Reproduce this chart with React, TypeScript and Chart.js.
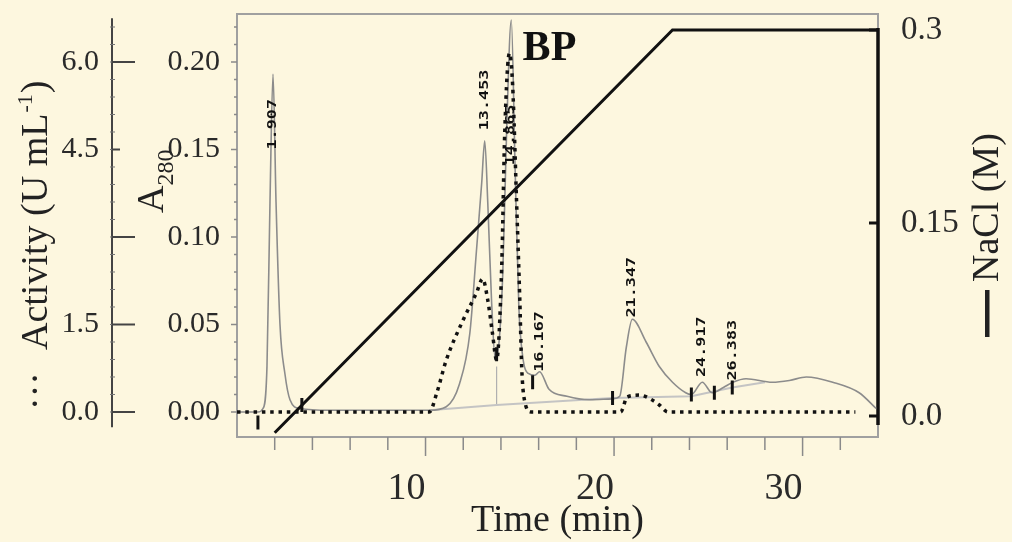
import React, { useEffect, useRef } from 'react';
import { Chart, registerables } from 'chart.js';

Chart.register(...registerables);

const SERIF = "'Liberation Serif', 'Times New Roman', serif";
const BG = '#fdf7df';

// ---- data ----
const a280Time = [0, 1.11, 1.38, 1.59, 1.75, 1.91, 2.07, 2.28, 2.54, 2.81, 3.34, 4.9, 10.2, 11.1, 11.8, 12.35, 12.7, 12.98, 13.14, 13.3, 13.5, 13.7, 13.9, 14.1, 14.3, 14.55, 14.75, 14.95, 15.15, 15.45, 15.8, 16.05, 16.55, 17.5, 18.7, 19.9, 20.3, 20.65, 20.97, 21.7, 22.4, 23.1, 23.8, 24.1, 24.68, 25.2, 25.8, 26.3, 27.0, 28.4, 29.3, 30.2, 31.6, 33.0, 33.9];
const a280Value = [0, 0, 0.002, 0.026, 0.12, 0.193, 0.12, 0.05, 0.022, 0.007, 0.002, 0.001, 0.001, 0.003, 0.016, 0.045, 0.092, 0.131, 0.155, 0.12, 0.064, 0.03, 0.04, 0.08, 0.16, 0.224, 0.14, 0.06, 0.032, 0.022, 0.021, 0.023, 0.013, 0.009, 0.007, 0.0075, 0.009, 0.037, 0.053, 0.04, 0.026, 0.017, 0.011, 0.01, 0.017, 0.011, 0.014, 0.017, 0.019, 0.017, 0.018, 0.02, 0.017, 0.011, 0.002];

const baselineTime = [10.2, 13.77, 19.92, 24.1, 26.27, 28.0];
const baselineValue = [0.001, 0.004, 0.008, 0.009, 0.014, 0.017];

const dropTime = [13.77, 13.77];
const dropValue = [0.026, 0.004];

const activityTime = [0, 10.2, 10.6, 11.1, 12.0, 12.7, 13.03, 13.3, 13.55, 13.77, 14.04, 14.2, 14.45, 14.62, 14.83, 15.0, 15.1, 15.25, 15.6, 19.9, 20.35, 20.7, 21.35, 22.0, 22.4, 22.85, 32.8];
const activityValue = [0, 0, 0.33, 0.89, 1.58, 2.04, 2.28, 1.92, 1.35, 0.89, 2.49, 4.78, 6.15, 5.6, 3.6, 1.93, 0.77, 0.2, 0, 0, 0, 0.26, 0.29, 0.21, 0.12, 0, 0];

const naclTime = [2.0, 23.1, 34];
const naclValue = [-0.013, 0.3, 0.3];

const markerTime = [1.11, 3.44, 13.77, 15.68, 19.92, 24.1, 25.32, 26.27];
const markerValue = [-0.006, 0.004, 0.033, 0.017, 0.008, 0.01, 0.011, 0.014];

const peakTime = [1.91, 13.14, 14.55, 16.05, 20.97, 24.68, 26.3];
const peakAnchor = [0.15, 0.161, 0.141, 0.023, 0.054, 0.02, 0.018];
const peakText = ['1.907', '13.453', '14.865', '16.167', '21.347', '24.917', '26.383'];

const xTickLabels = [10, 20, 30];
const a280Ticks = [0, 0.05, 0.1, 0.15, 0.2];
const activityTicks = [0, 1.5, 3.0, 4.5, 6.0];
const activityLabeled = [0, 1.5, 4.5, 6.0];
const naclTicks = [0, 0.15, 0.3];

const X_MIN = 0, X_MAX = 34;
const A_MIN = -0.01429, A_MAX = 0.22743;
const ACT_FACTOR = 30;
const N_MIN = -0.01632, N_MAX = 0.31243;

const toPts = (xs: number[], ys: number[]) => xs.map((x, i) => ({ x, y: ys[i] }));

function line(ctx: CanvasRenderingContext2D, x1: number, y1: number, x2: number, y2: number) {
  ctx.beginPath();
  ctx.moveTo(x1, y1);
  ctx.lineTo(x2, y2);
  ctx.stroke();
}

const noPad = (s: any) => {
  s.paddingTop = 0;
  s.paddingBottom = 0;
  s.paddingLeft = 0;
  s.paddingRight = 0;
};

const customPlugin = {
  id: 'customDecor',
  beforeDraw(chart: any) {
    const { ctx, width, height } = chart;
    ctx.save();
    ctx.fillStyle = BG;
    ctx.fillRect(0, 0, width, height);
    ctx.restore();
  },
  beforeDatasetsDraw(chart: any) {
    const { ctx, chartArea: ca, scales } = chart;
    const x = scales.x, y = scales.y, ya = scales.yAct, yr = scales.yR;
    ctx.save();
    // frame
    ctx.strokeStyle = '#a0a0a0';
    ctx.lineWidth = 2;
    ctx.strokeRect(ca.left, ca.top, ca.right - ca.left, ca.bottom - ca.top);
    // x ticks
    ctx.strokeStyle = '#8a8a8a';
    ctx.lineWidth = 1.5;
    for (let t = 2; t < X_MAX; t += 2) {
      const px = x.getPixelForValue(t);
      line(ctx, px, ca.bottom, px, ca.bottom + (t % 10 === 0 ? 19 : 13));
    }
    // A280 ticks
    for (let i = 0; i <= 22; i++) {
      const py = y.getPixelForValue(i * 0.01);
      const len = i % 5 === 0 ? 6 : 3;
      line(ctx, ca.left - len, py, ca.left, py);
    }
    // Activity axis
    const ax = ya.right;
    ctx.strokeStyle = '#444';
    ctx.lineWidth = 2;
    line(ctx, ax, ya.getPixelForValue(6.75), ax, ya.getPixelForValue(-0.26));
    ctx.lineWidth = 1;
    ctx.strokeStyle = '#777';
    for (let i = 0; i <= 22; i++) {
      const py = ya.getPixelForValue(i * 0.3);
      line(ctx, ax - 2, py, ax + 3, py);
    }
    ctx.strokeStyle = '#444';
    ctx.lineWidth = 2;
    activityTicks.forEach((v) => {
      const py = ya.getPixelForValue(v);
      line(ctx, ax, py, ax + (v === 4.5 ? 8 : 23), py);
    });
    // right NaCl axis
    const rx = yr.left;
    ctx.strokeStyle = '#111';
    ctx.lineWidth = 3.5;
    line(ctx, rx, yr.getPixelForValue(0.3016), rx, yr.getPixelForValue(-0.007));
    ctx.lineWidth = 3;
    naclTicks.forEach((v) => {
      const py = yr.getPixelForValue(v);
      line(ctx, rx - 9, py, rx, py);
    });
    ctx.restore();
  },
  afterDatasetsDraw(chart: any) {
    const { ctx, scales } = chart;
    const x = scales.x, y = scales.y;
    ctx.save();
    // peak labels
    ctx.fillStyle = '#111';
    ctx.font = "bold 12px 'DejaVu Sans Mono', monospace";
    ctx.textAlign = 'left';
    ctx.textBaseline = 'middle';
    peakText.forEach((txt, i) => {
      const px = x.getPixelForValue(peakTime[i]);
      const py = y.getPixelForValue(peakAnchor[i]);
      ctx.save();
      ctx.translate(px, py);
      ctx.rotate(-Math.PI / 2);
      ctx.scale(1.4, 1);
      ctx.fillText(txt, 0, 0);
      ctx.restore();
    });
    // BP
    ctx.font = `bold 42px ${SERIF}`;
    ctx.textBaseline = 'alphabetic';
    ctx.fillText('BP', x.getPixelForValue(15.15), y.getPixelForValue(0.2011));

    ctx.fillStyle = '#222';
    // Activity title
    ctx.save();
    ctx.translate(47, 350);
    ctx.rotate(-Math.PI / 2);
    ctx.font = `38px ${SERIF}`;
    ctx.textAlign = 'left';
    ctx.fillText('Activity (U mL', 0, 0);
    const w1 = ctx.measureText('Activity (U mL').width;
    ctx.font = `22px ${SERIF}`;
    ctx.fillText('-1', w1 + 1, -15);
    const w2 = ctx.measureText('-1').width;
    ctx.font = `38px ${SERIF}`;
    ctx.fillText(')', w1 + w2 + 2, 0);
    ctx.textAlign = 'right';
    ctx.fillText('\u00b7\u00b7\u00b7', -22, 0);
    ctx.restore();

    // A280 title
    ctx.save();
    ctx.translate(163, 213);
    ctx.rotate(-Math.PI / 2);
    ctx.font = `38px ${SERIF}`;
    ctx.textAlign = 'left';
    ctx.fillText('A', 0, 0);
    const wa = ctx.measureText('A').width;
    ctx.font = `24px ${SERIF}`;
    ctx.fillText('280', wa, 10);
    ctx.restore();

    // NaCl title
    ctx.save();
    ctx.translate(998, 282);
    ctx.rotate(-Math.PI / 2);
    ctx.font = `38px ${SERIF}`;
    ctx.textAlign = 'left';
    ctx.fillText('NaCl (M)', 0, 0);
    ctx.restore();
    ctx.fillRect(985, 290, 4.5, 47);

    ctx.restore();
  },
};

export default function App() {
  const ref = useRef<HTMLCanvasElement | null>(null);
  useEffect(() => {
    document.body.style.margin = '0';
    const canvas = ref.current;
    if (!canvas) return;
    const chart = new Chart(canvas, {
      type: 'line',
      data: {
        datasets: [
          {
            label: 'markers',
            data: toPts(markerTime, markerValue),
            yAxisID: 'y',
            showLine: false,
            pointStyle: 'line',
            pointRotation: 90,
            pointRadius: 7,
            pointBorderWidth: 3,
            pointBorderColor: '#111',
            borderColor: '#111',
          },
          {
            label: 'NaCl',
            data: toPts(naclTime, naclValue),
            yAxisID: 'yR',
            borderColor: '#111',
            borderWidth: 3,
            pointRadius: 0,
          },
          {
            label: 'Activity',
            data: toPts(activityTime, activityValue),
            yAxisID: 'yAct',
            borderColor: '#111',
            borderWidth: 3.5,
            borderDash: [3.5, 4.8],
            pointRadius: 0,
            cubicInterpolationMode: 'monotone',
          },
          {
            label: 'A280',
            data: toPts(a280Time, a280Value),
            yAxisID: 'y',
            borderColor: '#8c8c8c',
            borderWidth: 1.6,
            pointRadius: 0,
            cubicInterpolationMode: 'monotone',
          },
          {
            label: 'baseline',
            data: toPts(baselineTime, baselineValue),
            yAxisID: 'y',
            borderColor: '#c4c4c4',
            borderWidth: 2,
            pointRadius: 0,
          },
          {
            label: 'drop',
            data: toPts(dropTime, dropValue),
            yAxisID: 'y',
            borderColor: '#b0b0b0',
            borderWidth: 1.2,
            pointRadius: 0,
          },
        ],
      } as any,
      options: {
        animation: false,
        responsive: true,
        maintainAspectRatio: false,
        layout: { padding: { top: 14, left: 0, right: 0, bottom: 0 } },
        plugins: { legend: { display: false }, tooltip: { enabled: false } },
        scales: {
          x: {
            type: 'linear',
            position: 'bottom',
            min: X_MIN,
            max: X_MAX,
            grid: { display: false },
            border: { display: false },
            afterBuildTicks: (s: any) => { s.ticks = xTickLabels.map((v) => ({ value: v })); },
            afterFit: (s: any) => { s.height = 105; noPad(s); },
            ticks: {
              autoSkip: false,
              maxRotation: 0,
              minRotation: 0,
              align: 'end',
              padding: 21,
              color: '#2a2a2a',
              font: { family: SERIF, size: 38 },
              callback: (v: any) => String(v),
            },
            title: {
              display: true,
              text: 'Time (min)',
              color: '#222',
              padding: { top: 0, bottom: 0 },
              font: { family: SERIF, size: 38, lineHeight: 1.1 },
            },
          },
          y: {
            type: 'linear',
            position: 'left',
            weight: 0,
            min: A_MIN,
            max: A_MAX,
            grid: { display: false },
            border: { display: false },
            afterBuildTicks: (s: any) => { s.ticks = a280Ticks.map((v) => ({ value: v })); },
            afterFit: (s: any) => { s.width = 125; noPad(s); },
            ticks: {
              padding: 9,
              color: '#2a2a2a',
              font: { family: SERIF, size: 30 },
              callback: (v: any) => Number(v).toFixed(2),
            },
          },
          yAct: {
            type: 'linear',
            position: 'left',
            weight: 10,
            min: A_MIN * ACT_FACTOR,
            max: A_MAX * ACT_FACTOR,
            grid: { display: false },
            border: { display: false },
            afterBuildTicks: (s: any) => { s.ticks = activityTicks.map((v) => ({ value: v })); },
            afterFit: (s: any) => { s.width = 112; noPad(s); },
            ticks: {
              padding: 5,
              color: '#2a2a2a',
              font: { family: SERIF, size: 30 },
              callback: (v: any) => (activityLabeled.includes(Number(v)) ? Number(v).toFixed(1) : ''),
            },
          },
          yR: {
            type: 'linear',
            position: 'right',
            min: N_MIN,
            max: N_MAX,
            grid: { display: false },
            border: { display: false },
            afterBuildTicks: (s: any) => { s.ticks = naclTicks.map((v) => ({ value: v })); },
            afterFit: (s: any) => { s.width = 134; noPad(s); },
            ticks: {
              padding: 15,
              color: '#2a2a2a',
              font: { family: SERIF, size: 33 },
              callback: (v: any) => (Number(v) === 0 ? '0.0' : String(v)),
            },
          },
        },
      } as any,
      plugins: [customPlugin],
    });
    return () => chart.destroy();
  }, []);
  return (
    <div style={{ position: 'fixed', left: 0, top: 0, width: 1012, height: 542, background: BG }}>
      <canvas ref={ref} />
    </div>
  );
}
